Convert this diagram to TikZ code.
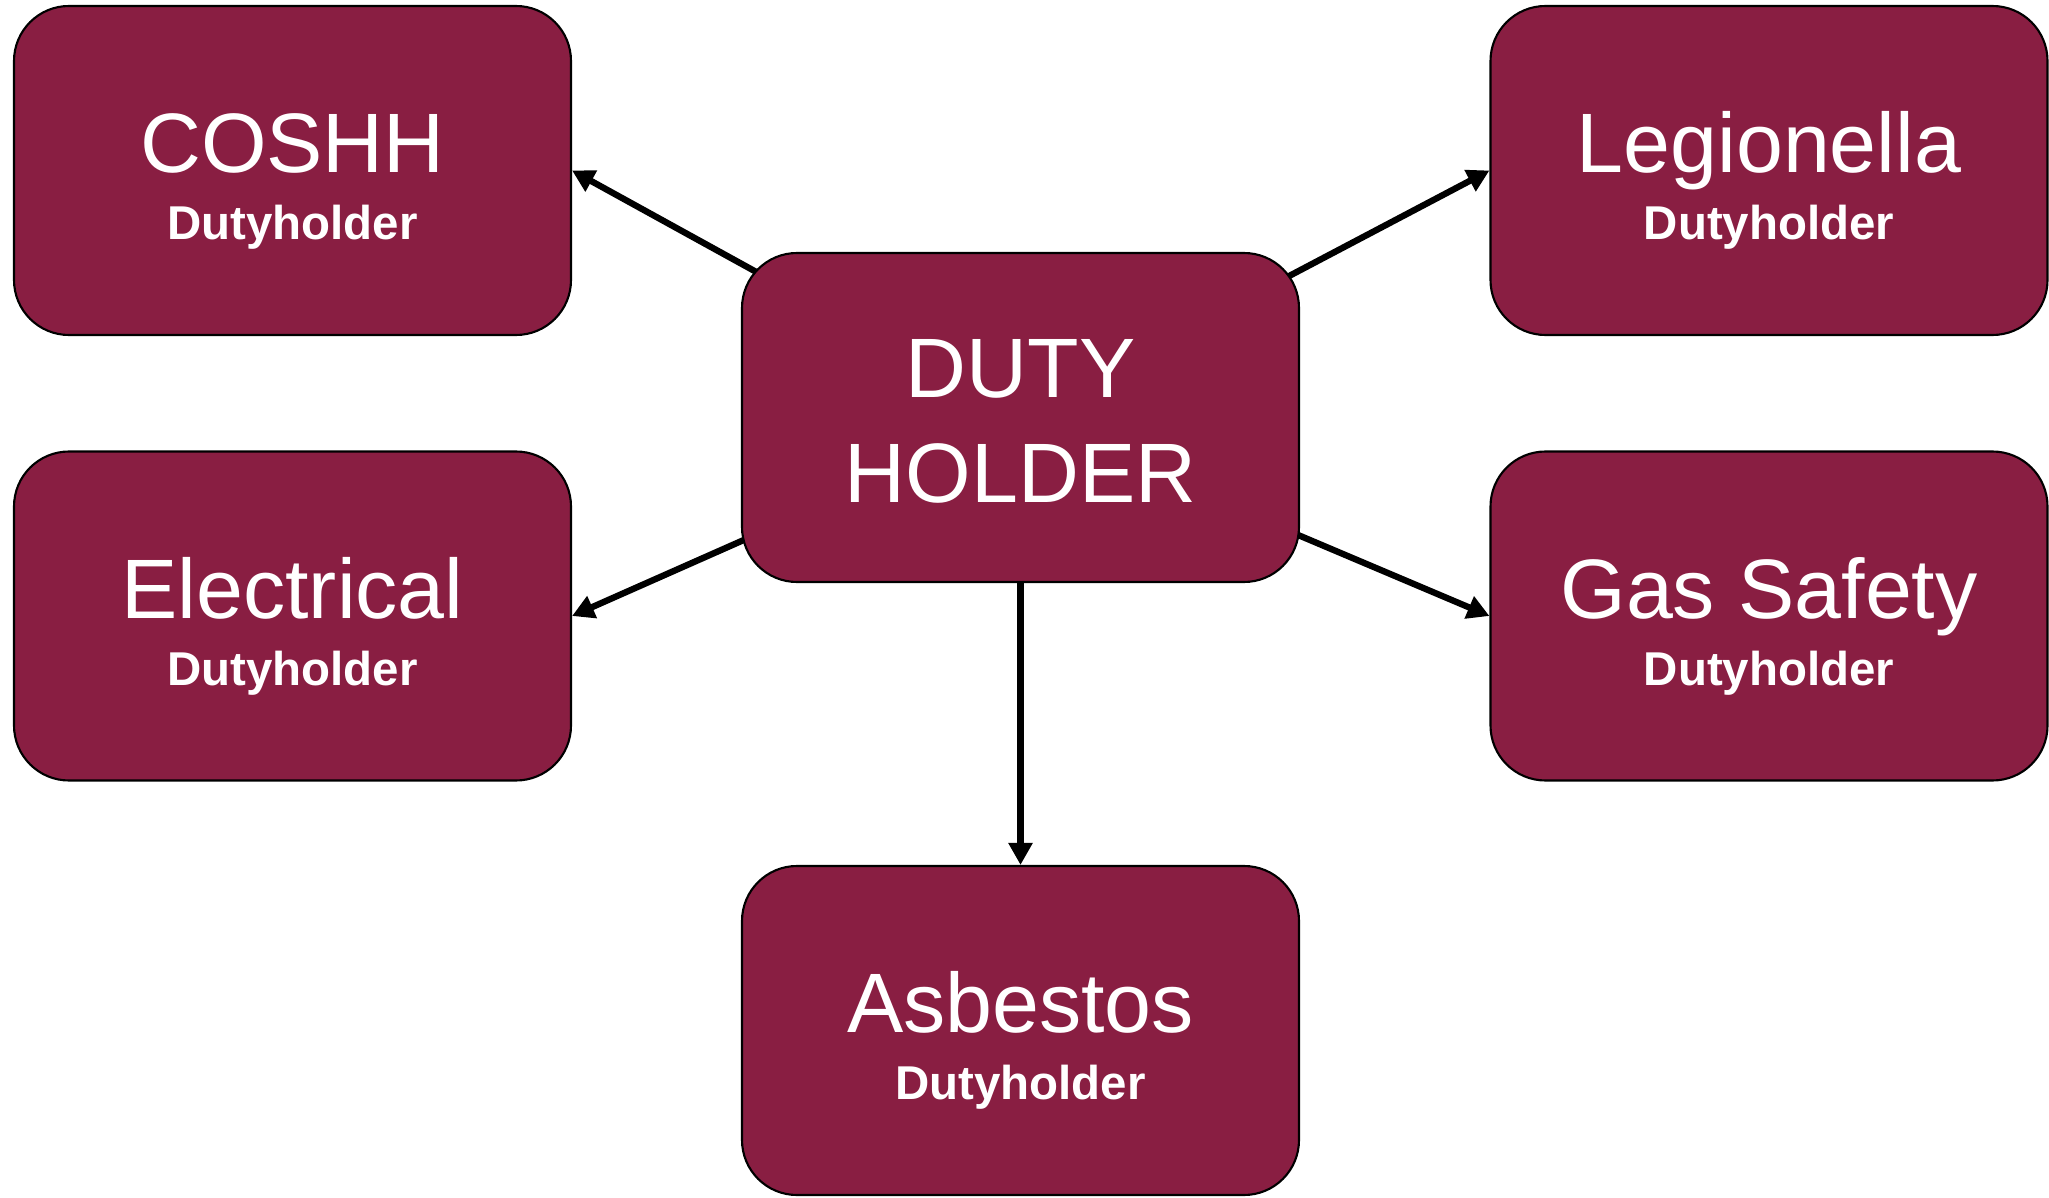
\documentclass[tikz,border=0pt]{standalone}
\usepackage{fontspec}
\setmainfont{Liberation Sans}
\usepackage{tikz}
\usetikzlibrary{arrows.meta,backgrounds}
\definecolor{dhred}{RGB}{137,30,66}

\begin{document}
\begin{tikzpicture}[
    hsbox/.style={draw=black,line width=0.6pt,fill=dhred,
      rounded corners=0.55cm,minimum width=5.57cm,minimum height=3.29cm,
      inner sep=0pt,text=white,align=center,
      font=\fontsize{24}{30}\selectfont},
    htitle/.style={anchor=base,inner sep=0pt,text=white,
      font=\fontsize{24}{30}\selectfont},
    hsub/.style={anchor=base,inner sep=0pt,text=white,
      font=\bfseries\fontsize{13.5}{16}\selectfont},
    link/.style={line width=1.8pt,-{Triangle[length=2.2mm,width=2.3mm]}}]
  \useasboundingbox (0,0) rectangle (20.49,11.97);

  % 中央の箱
  \node[hsbox] (duty) at (10.205,7.795) {};
  \node[htitle,align=center,anchor=center] (duty-t)
    at ([yshift=-0.04cm]duty.center) {DUTY\\HOLDER};

  % 周りの箱
  \node[hsbox] (coshh) at (2.925,10.265) {};
  \node[hsbox] (legio) at (17.69,10.265) {};
  \node[hsbox] (elec)  at (2.925,5.81) {};
  \node[hsbox] (gas)   at (17.69,5.81) {};
  \node[hsbox] (asb)   at (10.205,1.665) {};

  % 箱の中の文字
  \foreach \n/\t in {coshh/COSHH,legio/Legionella,elec/Electrical,
      gas/Gas Safety,asb/Asbestos} {
    \node[htitle] (\n-t) at ([yshift=-0.02cm]\n.center) {\t};
    \node[hsub] (\n-s) at ([yshift=-0.69cm]\n.center) {Dutyholder};
  }

  % 矢印
  \begin{scope}[on background layer]
    \draw[link] (duty.center) -- (coshh.east);
    \draw[link] (duty.center) -- (legio.west);
    \draw[link] (duty.center) -- (elec.east);
    \draw[link] (duty.center) -- (gas.west);
    \draw[link] (duty.center) -- (asb.north);
  \end{scope}
\end{tikzpicture}
\end{document}
